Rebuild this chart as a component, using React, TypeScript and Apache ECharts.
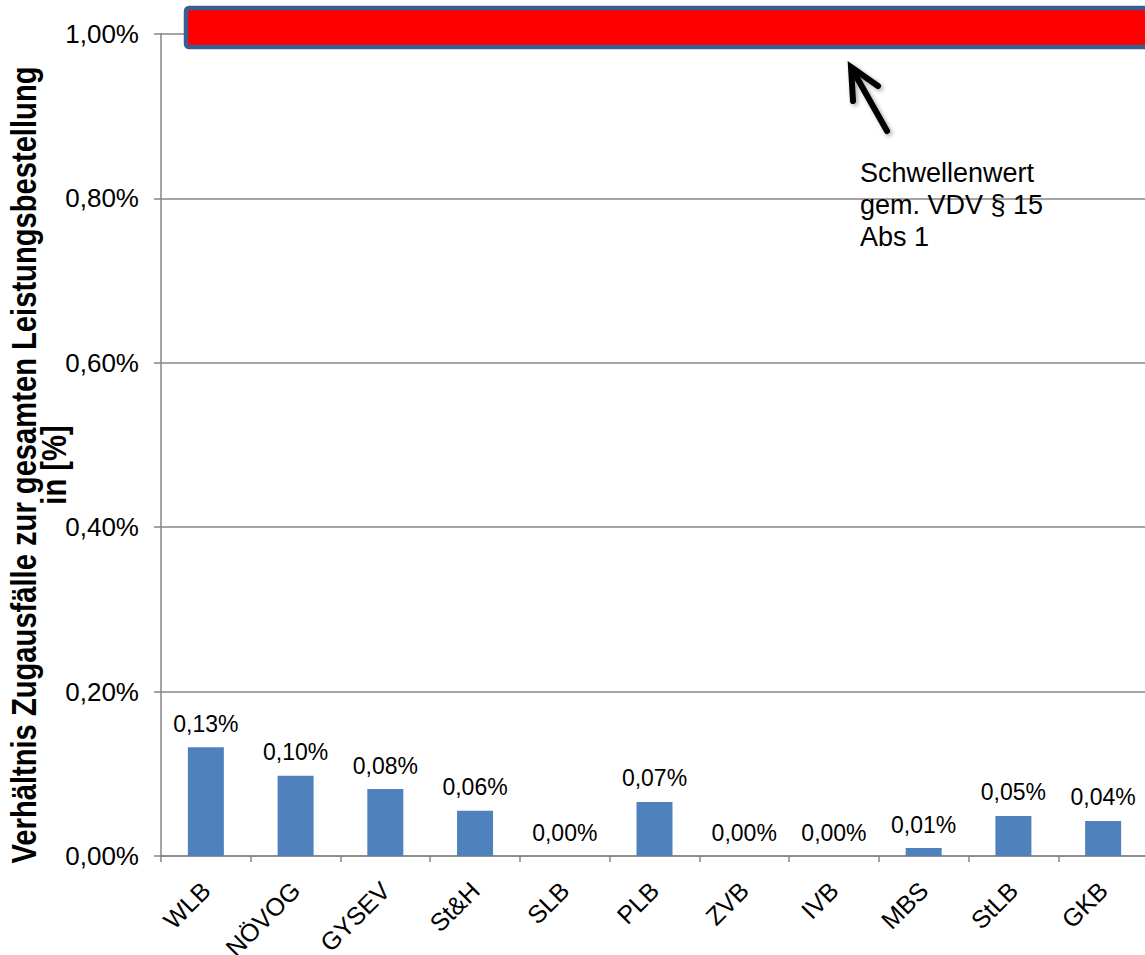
import React, { useEffect, useRef } from "react";
import * as echarts from "echarts";

const categories = ["WLB", "NÖVOG", "GYSEV", "St&H", "SLB", "PLB", "ZVB", "IVB", "MBS", "StLB", "GKB"];
const ratios = [0.1322, 0.0976, 0.0815, 0.0552, 0, 0.0657, 0, 0, 0.0097, 0.0487, 0.0426];
const yTicks = { min: 0, max: 1, interval: 0.2 };
const THRESHOLD = 1.0;
const annotationLines = ["Schwellenwert", "gem. VDV § 15", "Abs 1"];
const yTitleLines = ["Verhältnis Zugausfälle zur gesamten Leistungsbestellung", "in [%]"];

const fmt = (v: number) => v.toFixed(2).replace(".", ",") + "%";
const FONT = "'Liberation Sans', Arial, sans-serif";

export default function App() {
  const ref = useRef<HTMLDivElement>(null);
  useEffect(() => {
    if (!ref.current) return;
    const chart = echarts.init(ref.current, null, { renderer: "svg" });
    const gridLeft = 161;
    const gridTop = 34;
    const gridBottom = 99;
    chart.setOption({
      animation: false,
      backgroundColor: "#ffffff",
      textStyle: { fontFamily: FONT },
      grid: {
        left: gridLeft,
        top: gridTop,
        width: 987,
        bottom: gridBottom,
        containLabel: false,
        outerBoundsMode: "none",
      },
      xAxis: {
        type: "category",
        data: categories,
        axisLine: { lineStyle: { color: "#868686", width: 1.5 } },
        axisTick: { show: true, length: 6, lineStyle: { color: "#868686", width: 1.5 } },
        axisLabel: {
          rotate: 45,
          margin: 30,
          color: "#000",
          fontSize: 25,
          fontFamily: FONT,
          interval: 0,
        },
      },
      yAxis: {
        type: "value",
        min: yTicks.min,
        max: yTicks.max,
        interval: yTicks.interval,
        axisLine: { show: true, lineStyle: { color: "#868686", width: 1.5 } },
        axisTick: { show: true, length: 7, lineStyle: { color: "#868686", width: 1.5 } },
        splitLine: { show: true, lineStyle: { color: "#868686", width: 1.5 } },
        axisLabel: {
          formatter: (v: number) => fmt(v),
          color: "#000",
          fontSize: 26,
          margin: 22,
          fontFamily: FONT,
        },
      },
      series: [
        {
          type: "bar",
          data: ratios,
          barWidth: 36,
          itemStyle: { color: "#4F81BD" },
          label: {
            show: true,
            position: "top",
            distance: 12,
            formatter: (p: any) => fmt(p.value),
            color: "#000",
            fontSize: 23,
            fontFamily: FONT,
          },
        },
      ],
    });

    const yThr = chart.convertToPixel({ yAxisIndex: 0 }, THRESHOLD) as number;
    const y0 = chart.convertToPixel({ yAxisIndex: 0 }, 0) as number;
    const rectX = gridLeft + 25;
    chart.setOption({
      graphic: [
        {
          type: "text",
          x: 38,
          y: (yThr + y0) / 2 + 20,
          rotation: Math.PI / 2,
          scaleX: 0.81,
          style: {
            text: yTitleLines.join("\n"),
            font: "bold 36px 'Liberation Sans', Arial, sans-serif",
            lineHeight: 30,
            textAlign: "center",
            textVerticalAlign: "middle",
            fill: "#000",
          },
        },
        {
          type: "rect",
          shape: { x: rectX, y: yThr - 26, width: 1145 - rectX + 20, height: 39, r: 3 },
          style: { fill: "#FF0000", stroke: "#3A5F8F", lineWidth: 4.5 },
          z: 10,
        },
        {
          type: "line",
          shape: { x1: 887, y1: 131, x2: 852, y2: 69 },
          style: {
            stroke: "#000",
            lineWidth: 6,
            lineCap: "round",
            shadowBlur: 4,
            shadowColor: "rgba(0,0,0,0.35)",
            shadowOffsetX: 2,
            shadowOffsetY: 2,
          },
          z: 10,
        },
        {
          type: "polyline",
          shape: { points: [[878, 86], [851, 67], [853, 101]] },
          style: {
            stroke: "#000",
            fill: null,
            lineWidth: 6,
            lineCap: "round",
            lineJoin: "miter",
            shadowBlur: 4,
            shadowColor: "rgba(0,0,0,0.35)",
            shadowOffsetX: 2,
            shadowOffsetY: 2,
          },
          z: 10,
        },
        {
          type: "text",
          left: 860,
          top: 157,
          style: {
            text: annotationLines.join("\n"),
            fontSize: 27,
            lineHeight: 32,
            fontFamily: FONT,
            fill: "#000",
          },
          z: 10,
        },
      ],
    });
    return () => chart.dispose();
  }, []);
  return (
    <div
      ref={ref}
      style={{ position: "absolute", left: 0, top: 0, width: 1145, height: 955, background: "#fff" }}
    />
  );
}
